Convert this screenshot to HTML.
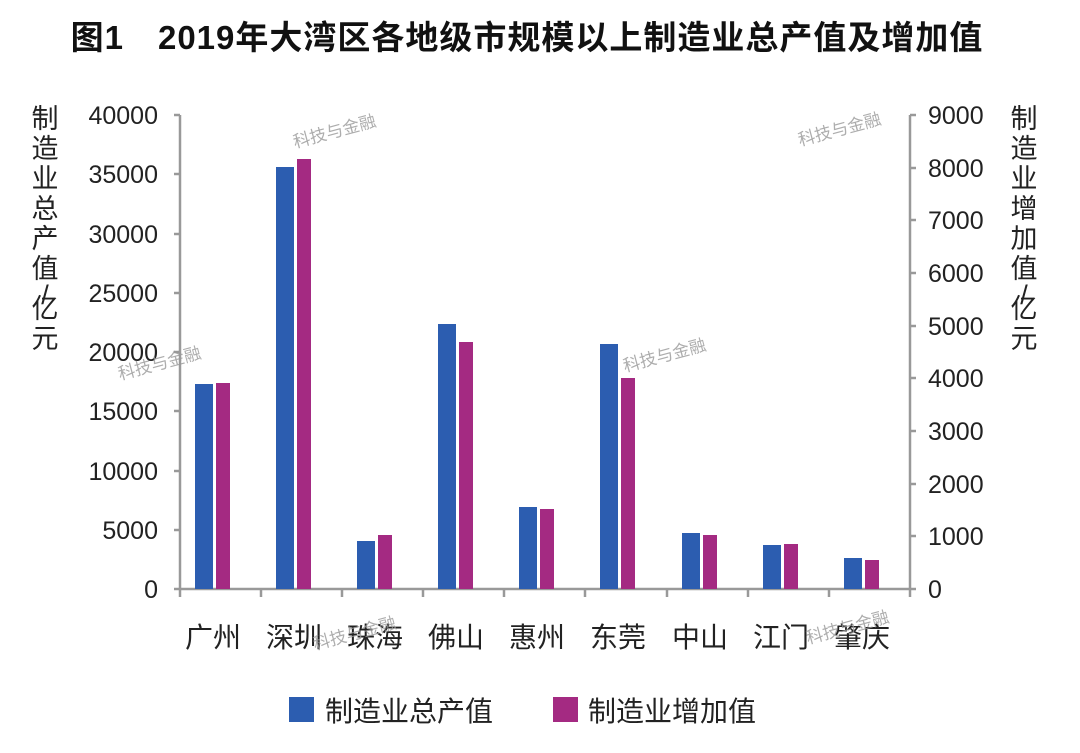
<!DOCTYPE html>
<html><head><meta charset="utf-8"><style>
body{margin:0;background:#fff;}
svg text{font-family:"Liberation Sans","Noto Sans CJK SC",sans-serif;}
</style></head><body>
<svg width="1080" height="748" xmlns="http://www.w3.org/2000/svg">
<text x="527" y="49" font-size="33" font-weight="bold" text-anchor="middle" fill="#111" letter-spacing="1">图1　2019年大湾区各地级市规模以上制造业总产值及增加值</text>
<g stroke="#999" stroke-width="2.5" fill="none">
<line x1="180" y1="115" x2="180" y2="589"/>
<line x1="910" y1="115" x2="910" y2="589"/>
<line x1="174" y1="589" x2="916" y2="589"/>
<line x1="174" y1="115" x2="180" y2="115"/><line x1="174" y1="174" x2="180" y2="174"/><line x1="174" y1="234" x2="180" y2="234"/><line x1="174" y1="293" x2="180" y2="293"/><line x1="174" y1="352" x2="180" y2="352"/><line x1="174" y1="411" x2="180" y2="411"/><line x1="174" y1="471" x2="180" y2="471"/><line x1="174" y1="530" x2="180" y2="530"/>
<line x1="910" y1="115" x2="916" y2="115"/><line x1="910" y1="168" x2="916" y2="168"/><line x1="910" y1="220" x2="916" y2="220"/><line x1="910" y1="273" x2="916" y2="273"/><line x1="910" y1="326" x2="916" y2="326"/><line x1="910" y1="378" x2="916" y2="378"/><line x1="910" y1="431" x2="916" y2="431"/><line x1="910" y1="484" x2="916" y2="484"/><line x1="910" y1="536" x2="916" y2="536"/>
<line x1="180" y1="589" x2="180" y2="597"/><line x1="261" y1="589" x2="261" y2="597"/><line x1="342" y1="589" x2="342" y2="597"/><line x1="423" y1="589" x2="423" y2="597"/><line x1="504" y1="589" x2="504" y2="597"/><line x1="585" y1="589" x2="585" y2="597"/><line x1="667" y1="589" x2="667" y2="597"/><line x1="748" y1="589" x2="748" y2="597"/><line x1="829" y1="589" x2="829" y2="597"/><line x1="910" y1="589" x2="910" y2="597"/>
</g>
<g font-size="25" fill="#222" text-anchor="end">
<text x="158" y="124">40000</text><text x="158" y="183">35000</text><text x="158" y="243">30000</text><text x="158" y="302">25000</text><text x="158" y="361">20000</text><text x="158" y="420">15000</text><text x="158" y="480">10000</text><text x="158" y="539">5000</text><text x="158" y="598">0</text>
</g>
<g font-size="25" fill="#222" text-anchor="start">
<text x="928" y="124">9000</text><text x="928" y="177">8000</text><text x="928" y="229">7000</text><text x="928" y="282">6000</text><text x="928" y="335">5000</text><text x="928" y="387">4000</text><text x="928" y="440">3000</text><text x="928" y="493">2000</text><text x="928" y="545">1000</text><text x="928" y="598">0</text>
</g>
<g font-size="27" fill="#222" text-anchor="middle">
<text x="45" y="128">制</text><text x="45" y="158">造</text><text x="45" y="188">业</text><text x="45" y="218">总</text><text x="45" y="248">产</text><text x="45" y="278">值</text><text x="45" y="304">/</text><text x="45" y="318">亿</text><text x="45" y="348">元</text>
<text x="1024" y="128">制</text><text x="1024" y="158">造</text><text x="1024" y="188">业</text><text x="1024" y="218">增</text><text x="1024" y="248">加</text><text x="1024" y="278">值</text><text x="1024" y="304">/</text><text x="1024" y="318">亿</text><text x="1024" y="348">元</text>
</g>
<g>
<rect x="195" y="384" width="18" height="205" fill="#2c5db0"/><rect x="216" y="383" width="14" height="206" fill="#a42a82"/>
<rect x="276" y="167" width="18" height="422" fill="#2c5db0"/><rect x="297" y="159" width="14" height="430" fill="#a42a82"/>
<rect x="357" y="541" width="18" height="48" fill="#2c5db0"/><rect x="378" y="535" width="14" height="54" fill="#a42a82"/>
<rect x="438" y="324" width="18" height="265" fill="#2c5db0"/><rect x="459" y="342" width="14" height="247" fill="#a42a82"/>
<rect x="519" y="507" width="18" height="82" fill="#2c5db0"/><rect x="540" y="509" width="14" height="80" fill="#a42a82"/>
<rect x="600" y="344" width="18" height="245" fill="#2c5db0"/><rect x="621" y="378" width="14" height="211" fill="#a42a82"/>
<rect x="682" y="533" width="18" height="56" fill="#2c5db0"/><rect x="703" y="535" width="14" height="54" fill="#a42a82"/>
<rect x="763" y="545" width="18" height="44" fill="#2c5db0"/><rect x="784" y="544" width="14" height="45" fill="#a42a82"/>
<rect x="844" y="558" width="18" height="31" fill="#2c5db0"/><rect x="865" y="560" width="14" height="29" fill="#a42a82"/>
</g>
<g font-size="28" fill="#222" text-anchor="middle">
<text x="213" y="647">广州</text><text x="294" y="647">深圳</text><text x="375" y="647">珠海</text><text x="456" y="647">佛山</text><text x="537" y="647">惠州</text><text x="618" y="647">东莞</text><text x="700" y="647">中山</text><text x="781" y="647">江门</text><text x="862" y="647">肇庆</text>
</g>
<g font-size="17" fill="#999" opacity="0.8">
<text x="295" y="148" transform="rotate(-15 295 148)">科技与金融</text>
<text x="800" y="146" transform="rotate(-15 800 146)">科技与金融</text>
<text x="120" y="380" transform="rotate(-15 120 380)">科技与金融</text>
<text x="625" y="372" transform="rotate(-15 625 372)">科技与金融</text>
<text x="315" y="650" transform="rotate(-15 315 650)">科技与金融</text>
<text x="808" y="644" transform="rotate(-15 808 644)">科技与金融</text>
</g>
<rect x="289" y="697" width="25" height="25" fill="#2c5db0"/>
<text x="325" y="721" font-size="28" fill="#222">制造业总产值</text>
<rect x="553" y="697" width="25" height="25" fill="#a42a82"/>
<text x="588" y="721" font-size="28" fill="#222">制造业增加值</text>
</svg>
</body></html>
